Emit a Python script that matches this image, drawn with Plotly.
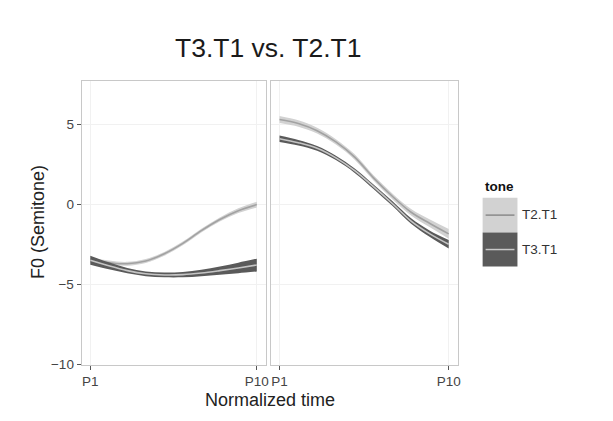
import plotly.graph_objects as go

# ---- data ----
points = list(range(1, 11))           # P1 .. P10
tick_vals = [1, 10]
tick_text = ["P1", "P10"]

# left panel
left_t2_mean = [-3.5, -3.65, -3.72, -3.55, -3.1, -2.45, -1.65, -0.95, -0.4, -0.02]
left_t2_se   = [0.15, 0.13, 0.12, 0.12, 0.12, 0.12, 0.12, 0.13, 0.15, 0.18]
left_t3_mean = [-3.5, -3.85, -4.15, -4.35, -4.42, -4.4, -4.3, -4.15, -3.98, -3.8]
left_t3_se   = [0.28, 0.22, 0.17, 0.15, 0.15, 0.17, 0.2, 0.26, 0.33, 0.4]

# right panel
right_t2_mean = [5.3, 5.05, 4.6, 3.9, 2.95, 1.65, 0.5, -0.5, -1.2, -1.85]
right_t2_se   = [0.22, 0.2, 0.18, 0.17, 0.17, 0.17, 0.18, 0.2, 0.24, 0.3]
right_t3_mean = [4.1, 3.85, 3.5, 2.9, 2.1, 1.1, 0.05, -1.05, -1.85, -2.5]
right_t3_se   = [0.2, 0.17, 0.15, 0.14, 0.14, 0.14, 0.15, 0.17, 0.2, 0.27]

tones = ["T2.T1", "T3.T1"]
fill_colors = {"T2.T1": "#d2d2d2", "T3.T1": "#5a5a5a"}
line_colors = {"T2.T1": "#a2a2a2", "T3.T1": "#c4c4c4"}

W, H = 613, 421
fig = go.Figure()

def band(xaxis, yaxis, mean, se, tone):
    up = [m + s for m, s in zip(mean, se)]
    lo = [m - s for m, s in zip(mean, se)]
    fig.add_trace(go.Scatter(x=points, y=up, mode="lines", line=dict(width=0, shape="spline"),
                             xaxis=xaxis, yaxis=yaxis, showlegend=False, hoverinfo="skip"))
    fig.add_trace(go.Scatter(x=points, y=lo, mode="lines", line=dict(width=0, shape="spline"),
                             fill="tonexty", fillcolor=fill_colors[tone],
                             xaxis=xaxis, yaxis=yaxis, showlegend=False, hoverinfo="skip"))
    fig.add_trace(go.Scatter(x=points, y=mean, mode="lines",
                             line=dict(color=line_colors[tone], width=1.6, shape="spline"),
                             xaxis=xaxis, yaxis=yaxis, showlegend=False, name=tone))

band("x", "y", left_t2_mean, left_t2_se, "T2.T1")
band("x", "y", left_t3_mean, left_t3_se, "T3.T1")
band("x2", "y2", right_t2_mean, right_t2_se, "T2.T1")
band("x2", "y2", right_t3_mean, right_t3_se, "T3.T1")

def px_x(p):
    return p / W

def px_y(p):
    return 1 - p / H

yrange = [-10.04, 7.73]
xrange = [0.53, 10.48]
axis_common = dict(showline=True, mirror=True, linecolor="#c8c8c8", linewidth=1,
                   zeroline=False, showgrid=True, gridcolor="#f1f1f1", gridwidth=1,
                   tickfont=dict(family="Liberation Sans, Arial", size=13.5, color="#444"),
                   ticks="outside", ticklen=4, tickcolor="#555", tickwidth=1)

fig.update_layout(
    width=W, height=H,
    margin=dict(l=0, r=0, t=0, b=0),
    paper_bgcolor="white", plot_bgcolor="white",
    showlegend=False,
    xaxis=dict(domain=[px_x(82), px_x(267)], range=xrange, tickvals=tick_vals, ticktext=tick_text,
               anchor="y", **axis_common),
    xaxis2=dict(domain=[px_x(272), px_x(460)], range=xrange, tickvals=tick_vals, ticktext=tick_text,
                anchor="y2", **axis_common),
    yaxis=dict(domain=[px_y(371), px_y(82)], range=yrange, tickvals=[5, 0, -5, -10],
               anchor="x", **axis_common),
    yaxis2=dict(domain=[px_y(371), px_y(82)], range=yrange, tickvals=[5, 0, -5, -10],
                anchor="x2", showticklabels=False,
                **{k: v for k, v in axis_common.items() if k not in ("ticks",)}, ticks=""),
)

font = "Liberation Sans, Arial"
ann = [
    dict(text="T3.T1 vs. T2.T1", x=px_x(270), y=px_y(49), font=dict(family=font, size=26.5, color="#1a1a1a")),
    dict(text="Normalized time", x=px_x(271), y=px_y(407), font=dict(family=font, size=18, color="#222")),
    dict(text="F0 (Semitone)", x=px_x(38), y=px_y(226), textangle=-90, font=dict(family=font, size=18, color="#222")),
    dict(text="<b>tone</b>", x=px_x(485), y=px_y(190), xanchor="left", font=dict(family=font, size=13.5, color="#111")),
    dict(text="T2.T1", x=px_x(523), y=px_y(218), xanchor="left", font=dict(family=font, size=13.5, color="#333")),
    dict(text="T3.T1", x=px_x(523), y=px_y(254), xanchor="left", font=dict(family=font, size=13.5, color="#333")),
]
for a in ann:
    a.setdefault("xanchor", "center")
    fig.add_annotation(xref="paper", yref="paper", showarrow=False, yanchor="middle", **a)

# legend keys (drawn as decoration)
for tone, (y0, y1) in zip(tones, [(201, 236.5), (236.5, 271)]):
    fig.add_shape(type="rect", xref="paper", yref="paper", x0=px_x(485), x1=px_x(520),
                  y0=px_y(y1), y1=px_y(y0), fillcolor=fill_colors[tone], line=dict(width=0))
    ym = (y0 + y1) / 2
    fig.add_shape(type="line", xref="paper", yref="paper", x0=px_x(488), x1=px_x(517),
                  y0=px_y(ym), y1=px_y(ym),
                  line=dict(color="#8a8a8a" if tone == "T2.T1" else "#c8c8c8", width=1.5))

fig.write_html("out.html", config={"displayModeBar": False},
               post_script="document.body.style.margin='0px';")
